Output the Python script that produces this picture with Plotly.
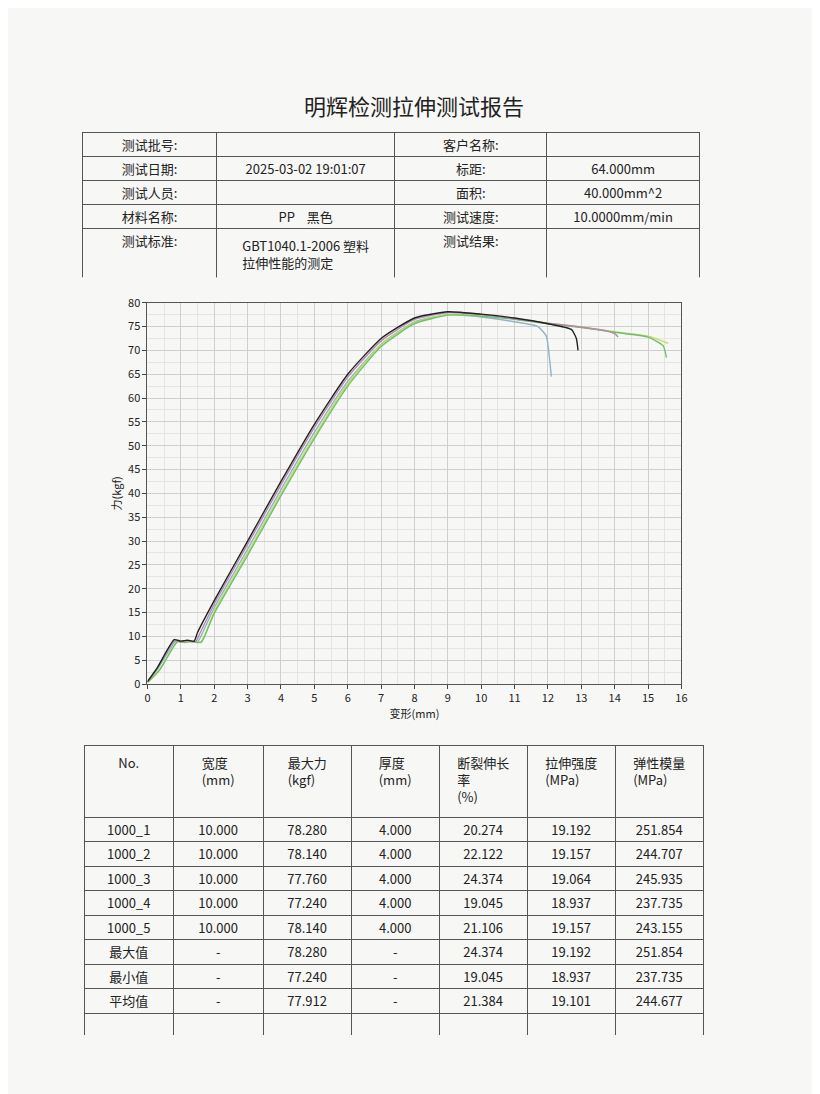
import plotly.graph_objects as go

# curves: strain (mm) vs force (kgf)
x_black = [0, 0.3, 0.8, 1.0, 1.2, 1.4, 1.5, 2, 3, 4, 5, 6, 7, 8, 9, 10, 11, 12, 12.7, 12.85, 12.9]
y_black = [0.5, 3.5, 9.3, 9.0, 9.2, 9.0, 10.8, 17.5, 30, 42.5, 54.5, 65, 72.5, 76.8, 78.1, 77.6, 76.8, 75.6, 74.4, 72.5, 70]
x_purple = [0, 0.3, 0.8, 1.0, 1.2, 1.45, 1.55, 2, 3, 4, 5, 6, 7, 8, 9, 10, 11, 12, 13, 13.8, 14.0, 14.1]
y_purple = [0.5, 3.3, 9.0, 8.9, 9.1, 8.9, 10.3, 16.8, 29.3, 41.8, 53.8, 64.4, 72.0, 76.5, 77.9, 77.5, 76.6, 75.7, 74.9, 74.0, 73.5, 72.8]
x_blue = [0, 0.3, 0.85, 1.0, 1.2, 1.5, 1.6, 2, 3, 4, 5, 6, 7, 8, 9, 10, 11, 11.7, 11.95, 12.05, 12.1]
y_blue = [0.4, 3.1, 9.0, 8.8, 9.0, 8.8, 10.0, 16.0, 28.3, 40.8, 52.8, 63.5, 71.3, 76.0, 77.5, 77.0, 76.0, 75.0, 73.0, 68.0, 64.5]
x_green = [0, 0.35, 0.9, 1.1, 1.3, 1.6, 1.7, 2, 3, 4, 5, 6, 7, 8, 9, 10, 11, 12, 13, 14, 15, 15.45, 15.55]
y_green = [0.3, 2.8, 8.9, 8.7, 8.9, 8.7, 9.8, 14.8, 27.0, 39.5, 51.5, 62.5, 70.8, 75.6, 77.4, 77.2, 76.5, 75.6, 74.8, 73.8, 72.8, 71.0, 68.5]
x_lgreen = [0, 0.35, 0.9, 1.1, 1.3, 1.6, 1.7, 2, 3, 4, 5, 6, 7, 8, 9, 10, 11, 12, 13, 14, 15, 15.6]
y_lgreen = [0.3, 2.9, 8.9, 8.8, 8.9, 8.8, 10.0, 15.2, 27.5, 40.0, 52.0, 63.0, 71.2, 75.8, 77.5, 77.3, 76.6, 75.7, 74.9, 73.9, 73.0, 71.5]

curves = [
    (x_blue, y_blue, "#8fb3c8"),
    (x_lgreen, y_lgreen, "#c9d86a"),
    (x_green, y_green, "#6cc26a"),
    (x_purple, y_purple, "#b48aa8"),
    (x_black, y_black, "#222222"),
]

# top info table
info_c1 = ["测试批号:", "测试日期:", "测试人员:", "材料名称:", "测试标准:"]
info_c2 = ["", "2025-03-02 19:01:07", "", "PP    黑色", "GBT1040.1-2006 塑料<br>拉伸性能的测定"]
info_c3 = ["客户名称:", "标距:", "面积:", "测试速度:", "测试结果:"]
info_c4 = ["", "64.000mm", "40.000mm^2", "10.0000mm/min", ""]

# result table
res_header = ["<br>No.", "宽度<br>(mm)", "最大力<br>(kgf)", "厚度<br>(mm)", "断裂伸长<br>率<br>(%)", "拉伸强度<br>(MPa)", "弹性模量<br>(MPa)"]
res_no = ["1000_1", "1000_2", "1000_3", "1000_4", "1000_5", "最大值", "最小值", "平均值", ""]
res_width = ["10.000"] * 5 + ["-", "-", "-", ""]
res_force = ["78.280", "78.140", "77.760", "77.240", "78.140", "78.280", "77.240", "77.912", ""]
res_thick = ["4.000"] * 5 + ["-", "-", "-", ""]
res_elong = ["20.274", "22.122", "24.374", "19.045", "21.106", "24.374", "19.045", "21.384", ""]
res_strength = ["19.192", "19.157", "19.064", "18.937", "19.157", "19.192", "18.937", "19.101", ""]
res_modulus = ["251.854", "244.707", "245.935", "237.735", "243.155", "251.854", "237.735", "244.677", ""]

FONT = "Noto Sans CJK SC"
W, H, OFF = 812, 1086, 8  # page has 8px body margin


def px(v):
    return (v - OFF) / W


def py(v):
    return 1 - (v - OFF) / H


fig = go.Figure()

for xs, ys, c in curves:
    fig.add_trace(go.Scatter(x=xs, y=ys, mode="lines", line=dict(color=c, width=1.4, shape="spline", smoothing=0.5),
                             showlegend=False, hoverinfo="skip"))

fig.add_trace(go.Table(
    domain=dict(x=[px(80), px(704)], y=[py(273), py(125)]),
    columnwidth=[136, 180, 154, 154],
    header=dict(values=[info_c1[0], info_c2[0], info_c3[0], info_c4[0]],
                line_color="#555", fill_color="#f7f7f5", height=24,
                font=dict(family=FONT, size=13, color="#222"), align="center"),
    cells=dict(values=[info_c1[1:], info_c2[1:], info_c3[1:], info_c4[1:]],
               line_color="#555", fill_color="#f7f7f5", height=24,
               font=dict(family=FONT, size=13, color="#222"), align="center"),
))

fig.add_trace(go.Table(
    domain=dict(x=[px(82), px(708)], y=[py(1042), py(747)]),
    columnwidth=[90, 91, 89, 89, 89, 89, 89],
    header=dict(values=res_header, line_color="#555", fill_color="#f7f7f5", height=72,
                font=dict(family=FONT, size=13, color="#222"), align="center"),
    cells=dict(values=[res_no, res_width, res_force, res_thick, res_elong, res_strength, res_modulus],
               line_color="#555", fill_color="#f7f7f5", height=24.5,
               font=dict(family=FONT, size=13, color="#222"), align="center"),
))

fig.update_layout(
    width=W, height=H, margin=dict(l=0, r=0, t=0, b=0),
    paper_bgcolor="#f7f7f5", plot_bgcolor="#f7f7f5",
    font=dict(family=FONT, color="#222"),
    title=dict(text="明辉检测拉伸测试报告", x=0.5, y=py(107), xanchor="center", yanchor="middle",
               font=dict(family=FONT, size=22, color="#222")),
    xaxis=dict(domain=[px(146), px(686)], range=[0, 16], dtick=1, minor=dict(dtick=0.5, showgrid=True, gridcolor="#e4e4e4"),
               showgrid=True, gridcolor="#cfcfcf", showline=True, linecolor="#555", mirror=True,
               ticks="outside", ticklen=4, tickfont=dict(size=11), zeroline=False,
               title=dict(text="变形(mm)", font=dict(size=11), standoff=4)),
    yaxis=dict(domain=[py(685), py(298)], range=[0, 80], dtick=5,
               minor=dict(dtick=2.5, showgrid=True, gridcolor="#e4e4e4"),
               showgrid=True, gridcolor="#cfcfcf", showline=True, linecolor="#555", mirror=True,
               ticks="outside", ticklen=4, tickfont=dict(size=11), zeroline=False,
               title=dict(text="力(kgf)", font=dict(size=11), standoff=4)),
)

fig.write_html("out.html")
